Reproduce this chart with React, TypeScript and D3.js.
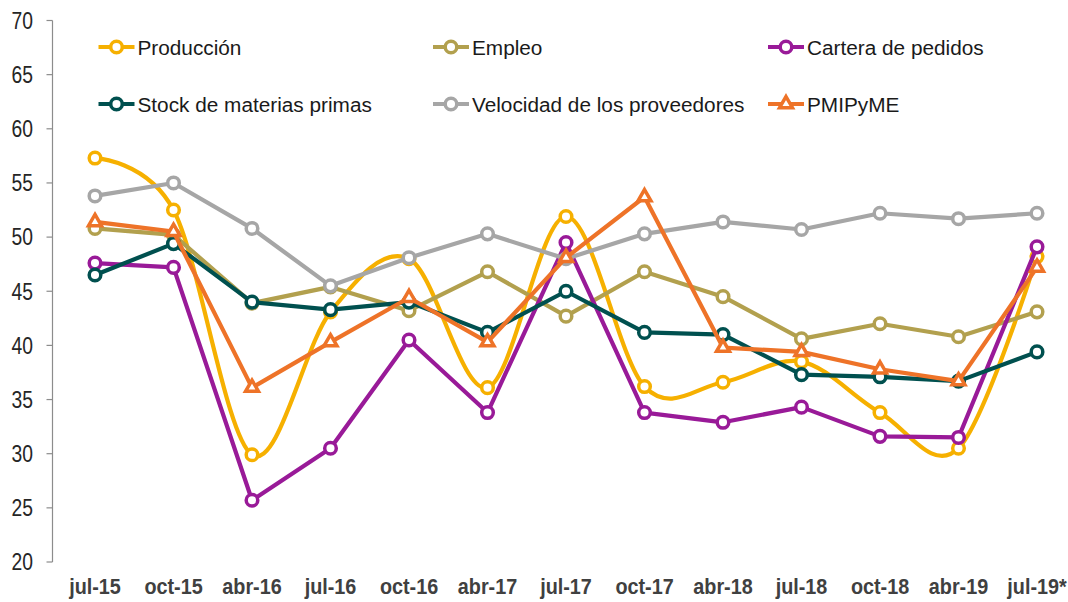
import React, { useEffect, useRef } from 'react';
import * as d3 from 'd3';

const CATEGORIES = ['jul-15', 'oct-15', 'abr-16', 'jul-16', 'oct-16', 'abr-17', 'jul-17', 'oct-17', 'abr-18', 'jul-18', 'oct-18', 'abr-19', 'jul-19*'];

const PRODUCCION = [57.3, 52.5, 29.9, 43.1, 48.0, 36.1, 51.9, 36.2, 36.6, 38.5, 33.8, 30.5, 48.2];
const EMPLEO = [50.8, 50.2, 43.9, 45.4, 43.2, 46.8, 42.7, 46.8, 44.5, 40.6, 42.0, 40.8, 43.1];
const CARTERA = [47.6, 47.2, 25.7, 30.5, 40.5, 33.8, 49.5, 33.8, 32.9, 34.3, 31.6, 31.5, 49.1];
const STOCK = [46.5, 49.4, 44.0, 43.3, 44.0, 41.2, 45.0, 41.2, 41.0, 37.3, 37.1, 36.7, 39.4];
const VELOCIDAD = [53.8, 55.0, 50.8, 45.5, 48.1, 50.3, 48.0, 50.3, 51.4, 50.7, 52.2, 51.7, 52.2];
const PMIPYME = [51.4, 50.5, 36.1, 40.3, 44.4, 40.3, 48.1, 53.7, 39.8, 39.4, 37.8, 36.7, 47.2];

const Y_TICKS = [20, 25, 30, 35, 40, 45, 50, 55, 60, 65, 70];

const SERIES = [
  { name: 'Producción', values: PRODUCCION, color: '#F6B000', smooth: true, marker: 'circle', legend: [0, 0] },
  { name: 'Empleo', values: EMPLEO, color: '#B2A04E', smooth: false, marker: 'circle', legend: [1, 0] },
  { name: 'Cartera de pedidos', values: CARTERA, color: '#991A98', smooth: false, marker: 'circle', legend: [2, 0] },
  { name: 'Stock de materias primas', values: STOCK, color: '#00504F', smooth: false, marker: 'circle', legend: [0, 1] },
  { name: 'Velocidad de los proveedores', values: VELOCIDAD, color: '#A6A6A6', smooth: false, marker: 'circle', legend: [1, 1] },
  { name: 'PMIPyME', values: PMIPYME, color: '#EE7328', smooth: false, marker: 'triangle', legend: [2, 1] },
];

const W = 1068;
const H = 602;

const App = () => {
  const svgRef = useRef<SVGSVGElement>(null);

  useEffect(() => {
    const svg = d3.select(svgRef.current);
    svg.selectAll('*').remove();

    const font = '"Liberation Sans", Arial, sans-serif';

    const x = d3.scalePoint<string>()
      .domain(CATEGORIES)
      .range([95, 1037]);

    const y = d3.scaleLinear()
      .domain([20, 70])
      .range([562, 20.5]);

    // y axis
    const axisX = 52.5;
    const ax = svg.append('g');
    ax.append('line')
      .attr('x1', axisX).attr('x2', axisX)
      .attr('y1', y(70)).attr('y2', y(20))
      .attr('stroke', '#8c8c8c').attr('stroke-width', 1.2);
    Y_TICKS.forEach(t => {
      ax.append('line')
        .attr('x1', axisX - 6).attr('x2', axisX)
        .attr('y1', y(t)).attr('y2', y(t))
        .attr('stroke', '#8c8c8c').attr('stroke-width', 1.2);
      ax.append('text')
        .attr('transform', `translate(33,${y(t)}) scale(0.84,1)`)
        .attr('dy', '0.36em')
        .attr('text-anchor', 'end')
        .style('font-family', font)
        .style('font-size', '23px')
        .style('fill', '#262626')
        .text(t);
    });

    // x labels
    CATEGORIES.forEach(c => {
      svg.append('text')
        .attr('transform', `translate(${x(c)},594) scale(0.9,1)`)
        .attr('text-anchor', 'middle')
        .style('font-family', font)
        .style('font-size', '22px')
        .style('font-weight', 'bold')
        .style('fill', '#404040')
        .text(c);
    });

    const triangle = d3.symbol().type(d3.symbolTriangle).size(72);

    const drawMarker = (g, s, cx, cy) => {
      if (s.marker === 'triangle') {
        g.append('path')
          .attr('d', triangle())
          .attr('transform', `translate(${cx},${cy})`)
          .attr('fill', '#fff')
          .attr('stroke', s.color)
          .attr('stroke-width', 3.5)
          .attr('stroke-linejoin', 'miter');
      } else {
        g.append('circle')
          .attr('cx', cx).attr('cy', cy)
          .attr('r', 5.8)
          .attr('fill', '#fff')
          .attr('stroke', s.color)
          .attr('stroke-width', 3.5);
      }
    };

    // series
    SERIES.forEach(s => {
      const g = svg.append('g');
      const line = d3.line<number>()
        .x((d, i) => x(CATEGORIES[i]))
        .y(d => y(d))
        .curve(s.smooth ? d3.curveCatmullRom.alpha(0) : d3.curveLinear);
      g.append('path')
        .attr('d', line(s.values))
        .attr('fill', 'none')
        .attr('stroke', s.color)
        .attr('stroke-width', 4.2)
        .attr('stroke-linejoin', 'round');
      s.values.forEach((v, i) => drawMarker(g, s, x(CATEGORIES[i]), y(v)));
    });

    // legend
    const colX = [116.5, 451, 786];
    const rowY = [47, 104];
    SERIES.forEach(s => {
      const cx = colX[s.legend[0]];
      const cy = rowY[s.legend[1]];
      const lg = svg.append('g');
      lg.append('line')
        .attr('x1', cx - 18).attr('x2', cx + 18)
        .attr('y1', cy).attr('y2', cy)
        .attr('stroke', s.color)
        .attr('stroke-width', 4.2);
      drawMarker(lg, s, cx, cy);
      lg.append('text')
        .attr('transform', `translate(${cx + 21},${cy + 7.5}) scale(0.99,1)`)
        .style('font-family', font)
        .style('font-size', '21px')
        .style('fill', '#1a1a1a')
        .text(s.name);
    });
  }, []);

  return (
    <svg
      ref={svgRef}
      width={W}
      height={H}
      style={{ position: 'absolute', left: 0, top: 0, background: '#fff', display: 'block' }}
    />
  );
};

export default App;
